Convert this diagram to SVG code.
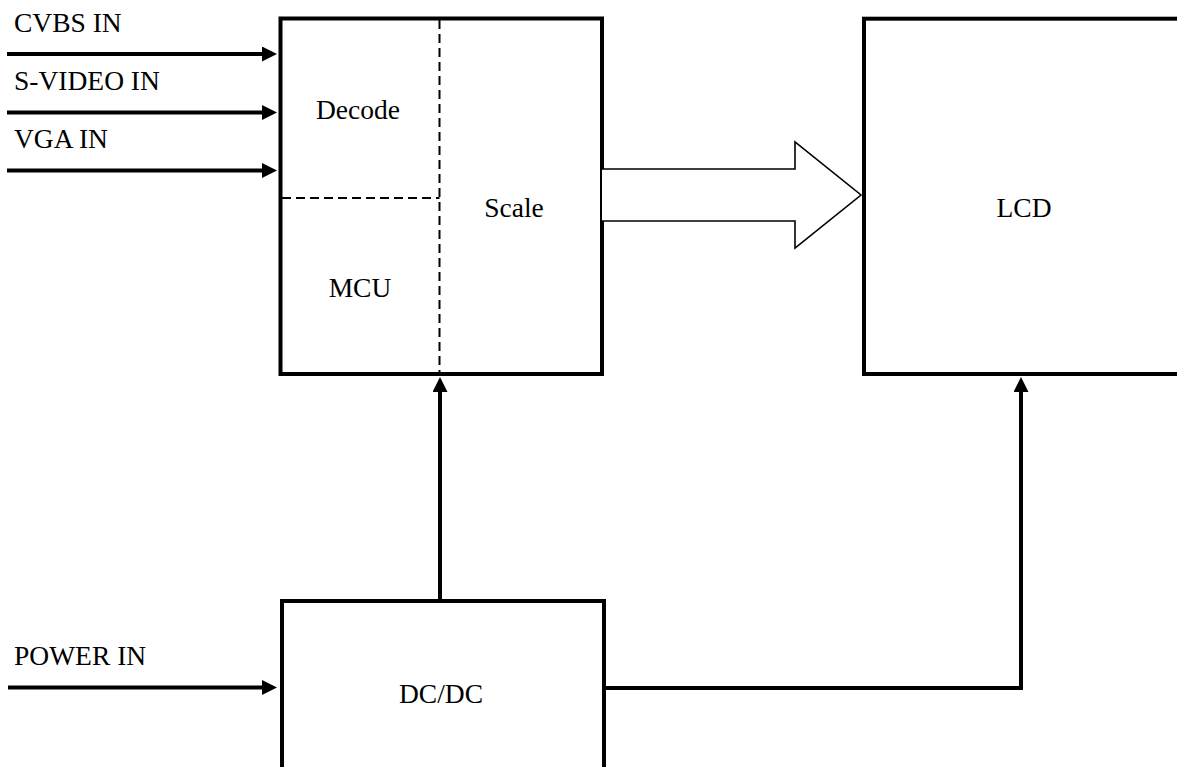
<svg xmlns="http://www.w3.org/2000/svg" width="1177" height="767" viewBox="0 0 1177 767">
  <defs>
    <style>
      .box { fill: #fff; stroke: #000; stroke-width: 4; }
      .dash { fill: none; stroke: #000; stroke-width: 2; stroke-dasharray: 9 5; }
      .wire { fill: none; stroke: #000; stroke-width: 4; }
      .hollow { fill: #fff; stroke: #000; stroke-width: 1.6; stroke-linejoin: miter; }
      text { font-size: 27.5px; fill: #000; }
      .mid { text-anchor: middle; }
    </style>
    <marker id="ah" markerUnits="userSpaceOnUse" markerWidth="16" markerHeight="16" refX="0" refY="7.5" orient="auto">
      <path d="M0,0 L15,7.5 L0,15 Z" fill="#000"/>
    </marker>
  </defs>

  <g font-family="'Liberation Serif', 'DejaVu Serif', serif">
  <g id="main-block">
    <rect class="box" x="280.5" y="18.5" width="321.5" height="355.5"/>
    <line class="dash" x1="439.5" y1="20" x2="439.5" y2="372"/>
    <line class="dash" x1="282" y1="198" x2="439.5" y2="198"/>
    <text class="mid" x="358" y="119">Decode</text>
    <text class="mid" x="360" y="297">MCU</text>
    <text class="mid" x="514" y="217">Scale</text>
  </g>

  <g id="lcd">
    <rect class="box" x="864" y="18.7" width="330" height="355.3"/>
    <text class="mid" x="1024" y="217">LCD</text>
  </g>

  <g id="dcdc">
    <rect class="box" x="282" y="601" width="322" height="200"/>
    <text class="mid" x="441" y="703">DC/DC</text>
  </g>

  <g id="input-labels">
    <text x="14" y="32">CVBS IN</text>
    <text x="14" y="90">S-VIDEO IN</text>
    <text x="14" y="148">VGA IN</text>
    <text x="14" y="665">POWER IN</text>
  </g>
  </g>

  <g id="connectors">
    <line class="wire" x1="7" y1="54" x2="262" y2="54" marker-end="url(#ah)"/>
    <line class="wire" x1="7" y1="112.5" x2="262" y2="112.5" marker-end="url(#ah)"/>
    <line class="wire" x1="7" y1="170.5" x2="262" y2="170.5" marker-end="url(#ah)"/>
    <line class="wire" x1="8" y1="687.5" x2="262" y2="687.5" marker-end="url(#ah)"/>
    <line class="wire" x1="440" y1="601" x2="440" y2="392" marker-end="url(#ah)"/>
    <path class="wire" d="M604,688 H1021 V392" marker-end="url(#ah)"/>
    <path class="hollow" d="M602,169 H795 V142 L861,195 L795,248 V221 H602"/>
  </g>
</svg>
